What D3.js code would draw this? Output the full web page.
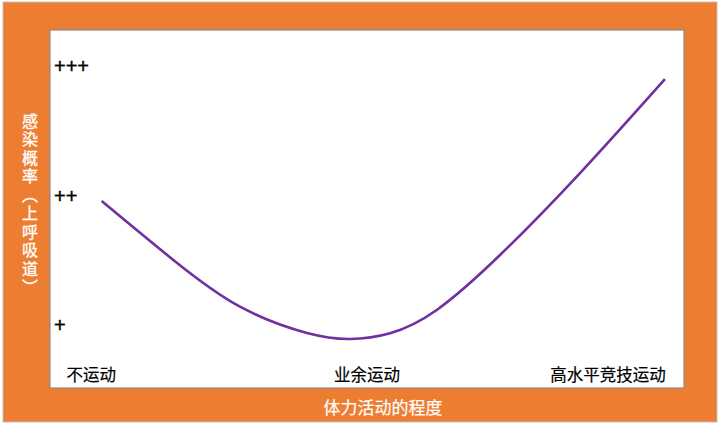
<!DOCTYPE html>
<html><head><meta charset="utf-8">
<script src="https://cdn.jsdelivr.net/npm/d3@7"></script>
<style>
html,body{margin:0;padding:0;background:#fff;}
text{font-family:"Noto Sans CJK SC","Noto Sans",sans-serif;}
</style></head>
<body>
<svg id="c" width="720" height="426"></svg>
<script>
// ---- data ----
const categories = ["不运动", "业余运动", "高水平竞技运动"];
const categoryPos = [6.5, 50.0, 88.0];           // x units (0..100)
const levelLabels = ["+", "++", "+++"];
const levelValues = [1, 2, 3];
const curveX = [8.15, 19.45, 29.97, 40.54, 47.32, 53.63, 61.0, 70.98, 83.60, 97.0];
const curveY = [1.965, 1.510, 1.149, 0.946, 0.900, 0.944, 1.124, 1.548, 2.181, 2.907];
const xTitle = "体力活动的程度";
const yTitle = "感染概率（上呼吸道）";

// ---- layout ----
const svg = d3.select("#c");
const plot = {left: 50, top: 30, right: 684, bottom: 388};
const x = d3.scaleLinear().domain([0, 100]).range([plot.left, plot.right]);
const y = d3.scaleLinear().domain([1, 3]).range([326, 67]);

svg.append("rect").attr("x", 3).attr("y", 2).attr("width", 714).attr("height", 420)
  .attr("fill", "#ED7D31").attr("stroke", "#c9c0b8").attr("stroke-width", 1);
svg.append("rect").attr("x", plot.left).attr("y", plot.top)
  .attr("width", plot.right - plot.left).attr("height", plot.bottom - plot.top)
  .attr("fill", "#fff").attr("stroke", "#8a8a8a").attr("stroke-width", 1.2);

// level labels
svg.selectAll("text.lvl").data(levelValues).join("text").attr("class", "lvl")
  .attr("x", 54).attr("y", d => y(d)).attr("dy", "0.3em")
  .style("font-family", "'Liberation Sans', Arial, sans-serif")
  .attr("font-size", 20).attr("fill", "#000")
  .attr("stroke", "#000").attr("stroke-width", 0.4)
  .text((d, i) => levelLabels[i]);

// category labels
svg.selectAll("text.cat").data(categories).join("text").attr("class", "cat")
  .attr("x", (d, i) => x(categoryPos[i])).attr("y", 375).attr("dy", "0.35em")
  .attr("text-anchor", "middle").attr("font-size", 16.5).attr("fill", "#000")
  .attr("stroke", "#000").attr("stroke-width", 0.2)
  .text(d => d);

// curve
const pts = curveX.map((v, i) => [v, curveY[i]]);
const line = d3.line().x(d => x(d[0])).y(d => y(d[1])).curve(d3.curveNatural);
svg.append("path").attr("d", line(pts)).attr("fill", "none")
  .attr("stroke", "#7030A0").attr("stroke-width", 2.6).attr("stroke-linecap", "butt");

// axis titles
svg.append("text").attr("x", 383).attr("y", 408).attr("dy", "0.35em")
  .attr("text-anchor", "middle").attr("font-size", 17).attr("fill", "#fff")
  .attr("stroke", "#fff").attr("stroke-width", 0.2)
  .text(xTitle);
svg.append("text").attr("x", 30).attr("y", 205)
  .attr("text-anchor", "middle").attr("font-size", 16).attr("fill", "#fff")
  .attr("stroke", "#fff").attr("stroke-width", 0.3)
  .style("writing-mode", "vertical-rl").style("text-orientation", "upright")
  .attr("letter-spacing", 2.5)
  .text(yTitle);
</script>
</body></html>
